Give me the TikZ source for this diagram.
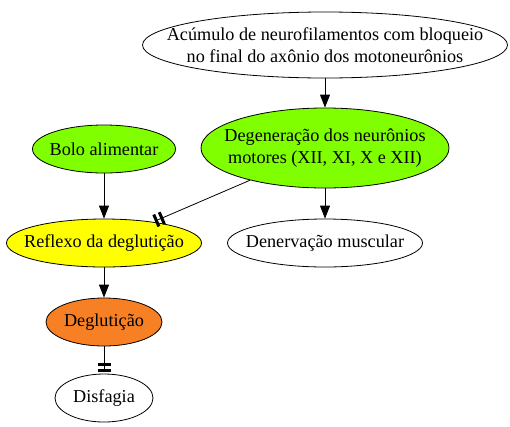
\documentclass[tikz,border=0pt]{standalone}
\usepackage{fontspec}
\setmainfont{Liberation Serif}
\usetikzlibrary{shapes.geometric,arrows.meta}

\definecolor{gvgreen}{RGB}{127,255,0}
\definecolor{gvyellow}{RGB}{255,255,0}
\definecolor{gvorange}{RGB}{247,127,36}

\tikzset{
  gvnode/.style={ellipse, draw, line width=0.8pt, inner sep=0pt},
  gvtext/.style={align=center, font=\fontsize{18.2}{22}\selectfont},
  gvarrow/.style={line width=0.8pt, -{Triangle[length=13pt,width=10pt]}},
  gvteetee/.style={line width=0.8pt,
    -{Bar[width=13pt,line width=3pt,sep=3pt]Bar[width=13pt,line width=3pt,sep=2pt]}}
}

\begin{document}
\begin{tikzpicture}[x=1pt, y=-1pt]
    % Parameters
    \def\rowh{48}
    \def\colA{104}
    \def\colB{325}

    \useasboundingbox (0,0) rectangle (510,426);

    % Nodes
    \node[gvnode, minimum width=365, minimum height=66,
      label={[gvtext]center:Acúmulo de neurofilamentos com bloqueio\\no final do axônio dos motoneurônios}]
      (acumulo) at (\colB,45) {};
    \node[gvnode, fill=gvgreen, minimum width=143, minimum height=\rowh,
      label={[gvtext]center:Bolo alimentar}]
      (bolo) at (\colA,149) {};
    \node[gvnode, fill=gvgreen, minimum width=248, minimum height=80,
      label={[gvtext]center:Degeneração dos neurônios\\motores (XII, XI, X e XII)}]
      (degeneracao) at (\colB,148) {};
    \node[gvnode, fill=gvyellow, minimum width=195, minimum height=\rowh,
      label={[gvtext]center:Reflexo da deglutição}]
      (reflexo) at (\colA,243) {};
    \node[gvnode, minimum width=195, minimum height=\rowh,
      label={[gvtext]center:Denervação muscular}]
      (denervacao) at (\colB,243) {};
    \node[gvnode, fill=gvorange, minimum width=116, minimum height=\rowh,
      label={[gvtext]center:Deglutição}]
      (deglut) at (\colA,322) {};
    \node[gvnode, minimum width=98, minimum height=\rowh,
      label={[gvtext]center:Disfagia}]
      (disfagia) at (\colA,398) {};

    % Edges
    \draw[gvarrow] (acumulo) -- (degeneracao);
    \draw[gvarrow] (bolo) -- (reflexo);
    \draw[gvteetee] (degeneracao) -- (reflexo);
    \draw[gvarrow] (degeneracao) -- (denervacao);
    \draw[gvarrow] (reflexo) -- (deglut);
    \draw[gvteetee] (deglut) -- (disfagia);
\end{tikzpicture}
\end{document}
